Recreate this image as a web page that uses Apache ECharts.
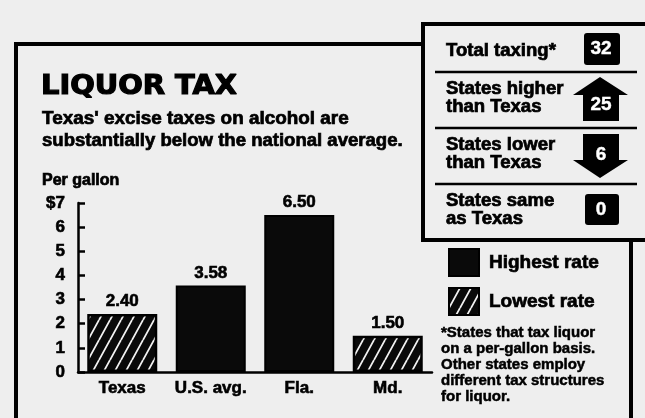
<!DOCTYPE html>
<html>
<head>
<meta charset="utf-8">
<script src="https://cdn.jsdelivr.net/npm/echarts@6/dist/echarts.min.js"></script>
<style>
html,body{margin:0;padding:0;background:#eeeeee;}
#chart{width:645px;height:418px;}
</style>
</head>
<body>
<div id="chart"></div>
<script>
// ---- data ----
var categories = ['Texas', 'U.S. avg.', 'Fla.', 'Md.'];
var highestRate = ['-', 3.58, 6.50, '-'];
var lowestRate = [2.40, '-', '-', 1.50];
var yTickLabels = ['0', '1', '2', '3', '4', '5', '6', '$7'];
var summaryLabels = [['Total taxing*'], ['States higher', 'than Texas'], ['States lower', 'than Texas'], ['States same', 'as Texas']];
var summaryValues = ['32', '25', '6', '0'];
var footnoteLines = ['*States that tax liquor', 'on a per-gallon basis.', 'Other states employ', 'different tax structures', 'for liquor.'];

var FONT = '"Liberation Sans", Arial, sans-serif';
var BG = '#eeeeee';

// hatch pattern
function makeHatch() {
  var w = 11, h = 20;
  var c = document.createElement('canvas');
  c.width = w; c.height = h;
  var ctx = c.getContext('2d');
  ctx.fillStyle = '#0a0a0a';
  ctx.fillRect(0, 0, w, h);
  ctx.strokeStyle = '#f2f2f2';
  ctx.lineWidth = 1.8;
  ctx.beginPath();
  ctx.moveTo(0, h); ctx.lineTo(w, 0);
  ctx.moveTo(-w, h); ctx.lineTo(0, 0);
  ctx.moveTo(w, h); ctx.lineTo(2 * w, 0);
  ctx.stroke();
  return c;
}
var hatch = { image: makeHatch(), repeat: 'repeat' };

var chart = echarts.init(document.getElementById('chart'));

function txt(x, y, t, size, opts) {
  opts = opts || {};
  return {
    type: 'text', x: x, y: y, scaleX: opts.scaleX || 1,
    style: {
      text: t, font: 'bold ' + size + 'px ' + (opts.family || FONT), fill: opts.fill || '#000',
      stroke: opts.fill || '#000', lineWidth: opts.lw == null ? 0.7 : opts.lw,
      textAlign: opts.align || 'left', textVerticalAlign: 'middle'
    }
  };
}

var graphics = [];
// outer box
graphics.push({ type: 'polyline', shape: { points: [[16, 430], [16, 44], [423, 44]] }, style: { stroke: '#000', lineWidth: 4, fill: null } });
graphics.push({ type: 'line', shape: { x1: 631, y1: 240, x2: 631, y2: 430 }, style: { stroke: '#000', lineWidth: 4 } });
// inset box
graphics.push({ type: 'rect', shape: { x: 423, y: 24, width: 240, height: 216 }, style: { stroke: '#000', lineWidth: 4, fill: BG } });
// separators
[72, 128, 184].forEach(function (y) {
  graphics.push({ type: 'line', shape: { x1: 435, y1: y, x2: 637, y2: y }, style: { stroke: '#000', lineWidth: 2.5 } });
});
// summary texts
var labelYs = [[51], [89, 107], [145, 163], [201, 219]];
summaryLabels.forEach(function (lines, i) {
  lines.forEach(function (t, j) {
    graphics.push(txt(446, labelYs[i][j], t, 18, { scaleX: 1.03 }));
  });
});
// number boxes / arrows
graphics.push({ type: 'rect', shape: { x: 584, y: 33, width: 36, height: 32, r: 3 }, style: { fill: '#000' } });
graphics.push({ type: 'polygon', shape: { points: [[600, 77], [628, 95], [619, 95], [619, 121], [583, 121], [583, 95], [573, 95]] }, style: { fill: '#000' } });
graphics.push({ type: 'polygon', shape: { points: [[583, 134], [619, 134], [619, 160], [628, 160], [600, 178], [573, 160], [583, 160]] }, style: { fill: '#000' } });
graphics.push({ type: 'rect', shape: { x: 585, y: 194, width: 34, height: 31, r: 3 }, style: { fill: '#000' } });
var numYs = [49, 105, 155, 210];
summaryValues.forEach(function (v, i) {
  graphics.push(txt(601, numYs[i], v, 19, { fill: '#fff', align: 'center', lw: 0.4 }));
});
// title & subtitle
graphics.push(txt(41, 87, 'LIQUOR TAX', 27, { family: '"DejaVu Sans", sans-serif', scaleX: 1.07, lw: 1.2 }));
graphics.push(txt(42, 119, "Texas' excise taxes on alcohol are", 18, { scaleX: 1.05 }));
graphics.push(txt(42, 141, 'substantially below the national average.', 18, { scaleX: 1.03 }));
graphics.push(txt(42, 181, 'Per gallon', 16));
// footnote
footnoteLines.forEach(function (t, i) {
  graphics.push(txt(441, 333 + i * 16, t, 15, { lw: 0.5 }));
});

var labelCfg = { show: true, position: 'top', distance: 4, color: '#000', textBorderColor: '#000', textBorderWidth: 0.6, fontFamily: FONT, fontWeight: 'bold', fontSize: 17, formatter: function (p) { return p.value.toFixed(2); } };

chart.setOption({
  backgroundColor: BG,
  animation: false,
  grid: { left: 78, right: 213, top: 203, bottom: 46 },
  legend: {
    left: 448, top: 248, orient: 'vertical', padding: 0, itemWidth: 30, itemHeight: 27, itemGap: 10,
    textStyle: { color: '#000', textBorderColor: '#000', textBorderWidth: 0.7, fontFamily: FONT, fontWeight: 'bold', fontSize: 19, padding: [0, 0, 0, 5] },
    data: [{ name: 'Highest rate', icon: 'rect' }, { name: 'Lowest rate', icon: 'rect' }]
  },
  xAxis: {
    type: 'category', data: categories,
    axisLine: { lineStyle: { color: '#000', width: 2.5 } },
    axisTick: { show: false },
    axisLabel: { interval: 0, color: '#000', textBorderColor: '#000', textBorderWidth: 0.6, fontFamily: FONT, fontWeight: 'bold', fontSize: 17, margin: 8 }
  },
  yAxis: {
    type: 'value', min: 0, max: 7, interval: 1,
    axisLine: { show: true, lineStyle: { color: '#000', width: 2.5 } },
    axisTick: { show: true, inside: true, length: 7, lineStyle: { color: '#000', width: 2.5 } },
    splitLine: { show: false },
    axisLabel: { color: '#000', textBorderColor: '#000', textBorderWidth: 0.6, fontFamily: FONT, fontWeight: 'bold', fontSize: 17, margin: 13, formatter: function (v) { return yTickLabels[v]; } }
  },
  series: [
    { name: 'Highest rate', type: 'bar', stack: 'r', barWidth: 70, data: highestRate, itemStyle: { color: '#0a0a0a', borderColor: '#000', borderWidth: 2 }, label: labelCfg },
    { name: 'Lowest rate', type: 'bar', stack: 'r', barWidth: 70, data: lowestRate, itemStyle: { color: hatch, borderColor: '#000', borderWidth: 2.5 }, label: labelCfg }
  ],
  graphic: graphics
});
</script>
</body>
</html>
